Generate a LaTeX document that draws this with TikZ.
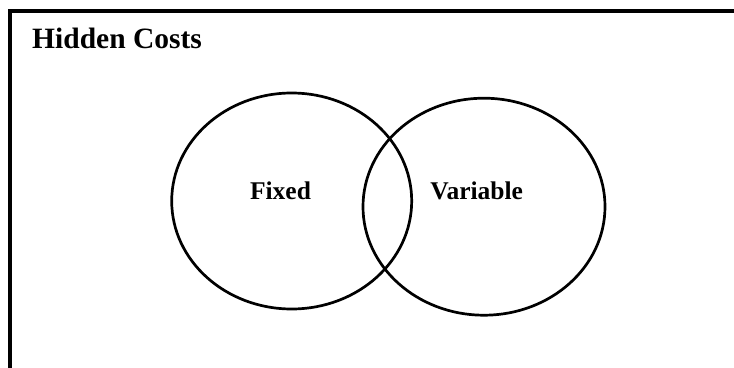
\documentclass[tikz,border=0pt]{standalone}
\usepackage{fontspec}
\setmainfont{Liberation Serif}
\usetikzlibrary{shapes.geometric}
\tikzset{
  frameline/.style={line width=3.2pt},
  venn/.style={draw, ellipse, line width=2.7pt, inner sep=0pt},
  lbl/.style={font=\bfseries\fontsize{25.5}{28}\selectfont, anchor=base, inner sep=0pt},
  ttl/.style={font=\bfseries\fontsize{29.5}{32}\selectfont, anchor=base west, inner sep=0pt}
}
\begin{document}
\begin{tikzpicture}[x=1pt,y=-1pt]
\useasboundingbox (0,0) rectangle (734,367);
\coordinate (fb) at (10,370);
\coordinate (fc) at (10,11);
\coordinate (fr) at (740,11);
\draw[frameline] (fb) -- (fc) -- (fr);
\node[ttl] (title) at (32,48) {Hidden Costs};
\node[venn, minimum width=240pt, minimum height=216pt] (fixed) at (291.7,201) {};
\node[venn, minimum width=242pt, minimum height=217pt] (variable) at (484,206.7) {};
\node[lbl] (fixedlbl) at (280.5,199) {Fixed};
\node[lbl] (varlbl) at (476.7,199) {Variable};
\end{tikzpicture}
\end{document}
